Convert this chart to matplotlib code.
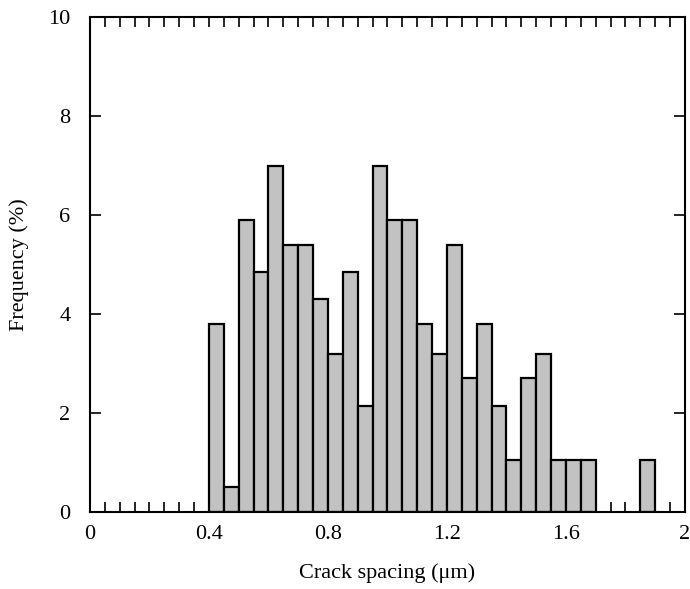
import numpy as np
import matplotlib
matplotlib.use("Agg")
import matplotlib.pyplot as plt

plt.rcParams['font.family'] = ['Liberation Serif', 'DejaVu Serif']

# bin left edges (um) and frequency (%)
bin_left = [0.40, 0.45, 0.50, 0.55, 0.60, 0.65, 0.70, 0.75, 0.80, 0.85,
            0.90, 0.95, 1.00, 1.05, 1.10, 1.15, 1.20, 1.25, 1.30, 1.35,
            1.40, 1.45, 1.50, 1.55, 1.60, 1.65, 1.85]
freq = [3.8, 0.5, 5.9, 4.85, 7.0, 5.4, 5.4, 4.3, 3.2, 4.85,
        2.15, 7.0, 5.9, 5.9, 3.8, 3.2, 5.4, 2.7, 3.8, 2.15,
        1.05, 2.7, 3.2, 1.05, 1.05, 1.05, 1.05]
bin_w = 0.05

fig = plt.figure(figsize=(6.9, 5.89), dpi=100)
ax = fig.add_axes([0.1304, 0.1307, 0.8623, 0.8404])

ax.bar(bin_left, freq, width=bin_w, align='edge', color='#c2c2c2',
       edgecolor='black', linewidth=1.6)

ax.set_xlim(0, 2)
ax.set_ylim(0, 10)
ax.set_xticks([0, 0.4, 0.8, 1.2, 1.6, 2])
ax.set_xticklabels(['0', '0.4', '0.8', '1.2', '1.6', '2'])
ax.set_xticks(np.arange(0, 2.0001, 0.05), minor=True)
ax.set_yticks([0, 2, 4, 6, 8, 10])
ax.tick_params(axis='both', which='both', direction='in', top=True, right=True,
               labelsize=16, width=1.2)
ax.tick_params(axis='x', which='both', length=7, pad=9)
ax.tick_params(axis='y', which='major', length=8, pad=14)
for s in ax.spines.values():
    s.set_linewidth(1.5)

ax.set_xlabel('Crack spacing (μm)', fontsize=16, labelpad=14)
ax.set_ylabel('Frequency (%)', fontsize=16, labelpad=14)

fig.savefig('out.png', dpi=100)
